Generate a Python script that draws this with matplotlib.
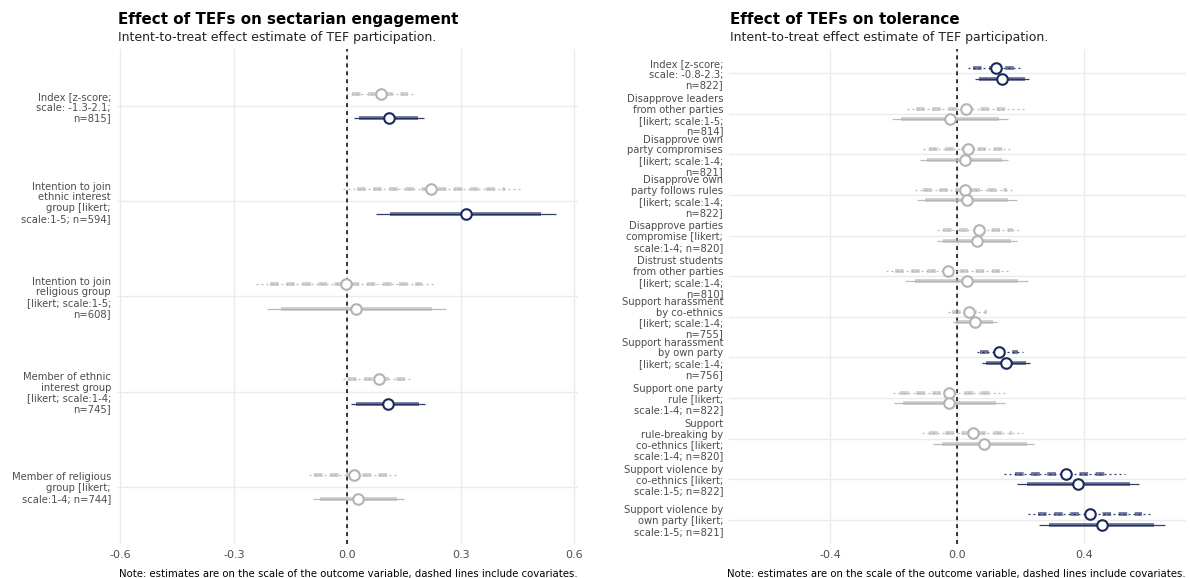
import matplotlib
matplotlib.use("Agg")

import matplotlib.pyplot as plt

# ---- sectarian engagement outcomes ----
sect_labels = [
    "Index [z-score;\nscale: -1.3-2.1;\nn=815]",
    "Intention to join\nethnic interest\ngroup [likert;\nscale:1-5; n=594]",
    "Intention to join\nreligious group\n[likert; scale:1-5;\nn=608]",
    "Member of ethnic\ninterest group\n[likert; scale:1-4;\nn=745]",
    "Member of religious\ngroup [likert;\nscale:1-4; n=744]",
]
# with covariates (dashed)
sect_cov_est = [0.090, 0.221, -0.003, 0.084, 0.017]
sect_cov_lo95 = [-0.004, -0.011, -0.240, -0.012, -0.102]
sect_cov_hi95 = [0.180, 0.457, 0.230, 0.174, 0.136]
sect_cov_lo90 = [0.012, 0.026, -0.204, 0.003, -0.088]
sect_cov_hi90 = [0.160, 0.418, 0.197, 0.162, 0.122]
# without covariates (solid)
sect_est = [0.110, 0.313, 0.024, 0.107, 0.029]
sect_lo95 = [0.018, 0.076, -0.212, 0.010, -0.091]
sect_hi95 = [0.202, 0.552, 0.262, 0.206, 0.149]
sect_lo90 = [0.032, 0.114, -0.174, 0.024, -0.073]
sect_hi90 = [0.188, 0.513, 0.224, 0.190, 0.131]

# ---- tolerance outcomes ----
tol_labels = [
    "Index [z-score;\nscale: -0.8-2.3;\nn=822]",
    "Disapprove leaders\nfrom other parties\n[likert; scale:1-5;\nn=814]",
    "Disapprove own\nparty compromises\n[likert; scale:1-4;\nn=821]",
    "Disapprove own\nparty follows rules\n[likert; scale:1-4;\nn=822]",
    "Disapprove parties\ncompromise [likert;\nscale:1-4; n=820]",
    "Distrust students\nfrom other parties\n[likert; scale:1-4;\nn=810]",
    "Support harassment\nby co-ethnics\n[likert; scale:1-4;\nn=755]",
    "Support harassment\nby own party\n[likert; scale:1-4;\nn=756]",
    "Support one party\nrule [likert;\nscale:1-4; n=822]",
    "Support\nrule-breaking by\nco-ethnics [likert;\nscale:1-4; n=820]",
    "Support violence by\nco-ethnics [likert;\nscale:1-5; n=822]",
    "Support violence by\nown party [likert;\nscale:1-5; n=821]",
]
tol_cov_est = [0.121, 0.027, 0.035, 0.023, 0.068, -0.028, 0.037, 0.132, -0.025, 0.050, 0.341, 0.417]
tol_cov_lo95 = [0.035, -0.160, -0.107, -0.133, -0.063, -0.225, -0.028, 0.061, -0.204, -0.112, 0.148, 0.222]
tol_cov_hi95 = [0.208, 0.213, 0.176, 0.182, 0.203, 0.166, 0.098, 0.206, 0.153, 0.208, 0.528, 0.612]
tol_cov_lo90 = [0.050, -0.130, -0.088, -0.109, -0.046, -0.196, -0.018, 0.071, -0.181, -0.088, 0.182, 0.255]
tol_cov_hi90 = [0.192, 0.171, 0.155, 0.155, 0.176, 0.134, 0.092, 0.192, 0.124, 0.171, 0.481, 0.581]
tol_est = [0.141, -0.023, 0.023, 0.029, 0.061, 0.029, 0.055, 0.152, -0.025, 0.084, 0.380, 0.456]
tol_lo95 = [0.056, -0.207, -0.118, -0.126, -0.065, -0.165, -0.015, 0.077, -0.199, -0.076, 0.187, 0.256]
tol_hi95 = [0.226, 0.161, 0.161, 0.187, 0.187, 0.222, 0.124, 0.229, 0.150, 0.243, 0.573, 0.654]
tol_lo90 = [0.068, -0.177, -0.094, -0.102, -0.044, -0.133, -0.004, 0.090, -0.172, -0.049, 0.218, 0.290]
tol_hi90 = [0.213, 0.131, 0.140, 0.161, 0.168, 0.190, 0.113, 0.216, 0.122, 0.218, 0.544, 0.620]

NAVY = "#1b2a5e"
GREY = "#b3b3b3"
GRID = "#ebebeb"
TEXT = "#4d4d4d"
NOTE = "Note: estimates are on the scale of the outcome variable, dashed lines include covariates."
DODGE = 0.13


def draw_rows(ax, ys, est, lo95, hi95, lo90, hi90, dashed):
    for y, e, l95, h95, l90, h90 in zip(ys, est, lo95, hi95, lo90, hi90):
        # navy when the 95% interval excludes zero
        col = NAVY if (l95 > 0 or h95 < 0) else GREY
        thin = ax.plot([l95, h95], [y, y], color=col, lw=0.9, alpha=0.9,
                       solid_capstyle="butt", zorder=3)[0]
        thick = ax.plot([l90, h90], [y, y], color=col, lw=2.7, alpha=0.65,
                        solid_capstyle="butt", zorder=4)[0]
        if dashed:
            thin.set_linestyle((0, (1.6, 2.4)))
            thick.set_linestyle((0, (2.3, 2.0)))
            thick.set_dash_capstyle("butt")
        ax.plot([e], [y], "o", ms=7.6, mfc="white", mec=col, mew=1.5, zorder=5)


def panel(ax, labels, cov, nocov, xlim, ticks, title):
    n = len(labels)
    pos = list(range(1, n + 1))
    draw_rows(ax, [p - DODGE for p in pos], *cov, dashed=True)
    draw_rows(ax, [p + DODGE for p in pos], *nocov, dashed=False)
    ax.axvline(0, color="black", lw=1.1, ls=(0, (2.6, 2.6)), zorder=2)

    ax.set_xlim(*xlim)
    ax.set_ylim(n + 0.6, 0.4)
    ax.set_yticks(pos)
    ax.set_yticklabels(labels, fontsize=7.2, color=TEXT, linespacing=1.1)
    ax.set_xticks(ticks)
    ax.set_xticklabels([f"{t:.1f}" for t in ticks], fontsize=8, color=TEXT)
    ax.tick_params(length=0, pad=4)
    ax.grid(True, color=GRID, lw=1.0, zorder=0)
    ax.set_axisbelow(True)
    for s in ax.spines.values():
        s.set_visible(False)

    ax.text(0.003, 1.05, title, transform=ax.transAxes, fontsize=10.9,
            fontweight="bold", ha="left", va="baseline")
    ax.text(0.003, 1.016, "Intent-to-treat effect estimate of TEF participation.",
            transform=ax.transAxes, fontsize=9, ha="left", va="baseline",
            color="#222222")
    ax.text(1, -0.06, NOTE, transform=ax.transAxes, fontsize=7.3,
            ha="right", va="center", color="black")


fig = plt.figure(figsize=(11.9, 5.78), dpi=100)
bottom = 1 - 544 / 578
height = (544 - 49) / 578
ax1 = fig.add_axes([116.5 / 1190, bottom, 461.5 / 1190, height])
ax2 = fig.add_axes([728.7 / 1190, bottom, 457.2 / 1190, height])

panel(ax1, sect_labels,
      (sect_cov_est, sect_cov_lo95, sect_cov_hi95, sect_cov_lo90, sect_cov_hi90),
      (sect_est, sect_lo95, sect_hi95, sect_lo90, sect_hi90),
      (-0.61, 0.61), [-0.6, -0.3, 0.0, 0.3, 0.6],
      "Effect of TEFs on sectarian engagement")
panel(ax2, tol_labels,
      (tol_cov_est, tol_cov_lo95, tol_cov_hi95, tol_cov_lo90, tol_cov_hi90),
      (tol_est, tol_lo95, tol_hi95, tol_lo90, tol_hi90),
      (-0.72, 0.72), [-0.4, 0.0, 0.4],
      "Effect of TEFs on tolerance")

fig.savefig("out.png", dpi=100, facecolor="white")
